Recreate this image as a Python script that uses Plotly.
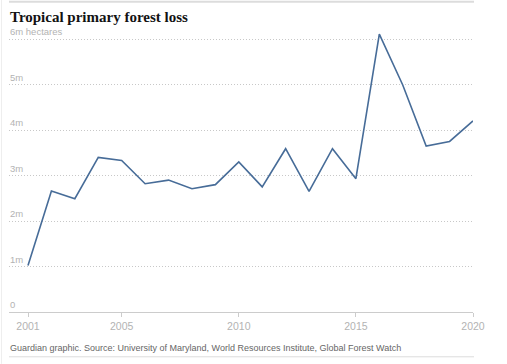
import plotly.graph_objects as go

years = list(range(2001, 2021))
loss_mha = [1.02, 2.66, 2.49, 3.40, 3.33, 2.82, 2.90, 2.71, 2.80, 3.30,
            2.75, 3.59, 2.65, 3.59, 2.93, 6.11, 4.99, 3.65, 3.75, 4.20]
y_ticks = [0, 1, 2, 3, 4, 5, 6]
y_tick_labels = ["0", "1m", "2m", "3m", "4m", "5m", "6m hectares"]
x_ticks = [2001, 2005, 2010, 2015, 2020]
title_text = "Tropical primary forest loss"
source_text = "Guardian graphic. Source: University of Maryland, World Resources Institute, Global Forest Watch"

W, H = 507, 364
L, R, T, B = 9, 473, 30.2, 312.2


def px(x):
    return (x - L) / (R - L)


def py(y):
    return (B - y) / (B - T)


sans = "Liberation Sans"
label_color = "#b3b3b3"

fig = go.Figure()
fig.add_trace(go.Scatter(
    x=years, y=loss_mha, mode="lines",
    line=dict(color="#476c98", width=1.6),
    hoverinfo="skip",
))

annotations = []
for v, t in zip(y_ticks, y_tick_labels):
    annotations.append(dict(
        x=0, xref="paper", y=v, yref="y", text=t, showarrow=False,
        xanchor="left", yanchor="bottom", yshift=0, xshift=-1,
        font=dict(family=sans, size=9.5, color=label_color),
    ))
annotations.append(dict(
    x=px(8), xref="paper", y=py(17), yref="paper", text="<b>" + title_text + "</b>",
    showarrow=False, xanchor="left", yanchor="middle",
    font=dict(family="Liberation Serif", size=15, color="#121212"),
))
annotations.append(dict(
    x=px(8), xref="paper", y=py(348), yref="paper", text=source_text,
    showarrow=False, xanchor="left", yanchor="middle",
    font=dict(family=sans, size=9, color="#666666"),
))

shapes = [
    dict(type="line", xref="paper", yref="paper", x0=px(9), x1=px(474), y0=py(2), y1=py(2),
         line=dict(color="#dcdcdc", width=2)),
    dict(type="line", xref="paper", yref="paper", x0=px(9), x1=px(474), y0=py(357), y1=py(357),
         line=dict(color="#dcdcdc", width=1)),
    dict(type="line", xref="paper", yref="paper", x0=px(1.5), x1=px(1.5), y0=py(0), y1=py(364),
         line=dict(color="#eeeeee", width=1)),
]

x0 = 2001 - (28 - L) / ((R - 28) / 19)

fig.update_layout(
    width=W, height=H,
    margin=dict(l=L, r=W - R, t=T, b=H - B, pad=0),
    paper_bgcolor="white", plot_bgcolor="white",
    showlegend=False,
    annotations=annotations,
    shapes=shapes,
    xaxis=dict(
        range=[x0, 2020], tickvals=x_ticks, ticktext=[str(v) for v in x_ticks],
        showgrid=False, zeroline=False, showline=True, linecolor="#cccccc", linewidth=1,
        ticks="outside", ticklen=4, tickcolor="#cccccc", tickwidth=1,
        tickfont=dict(family=sans, size=10.5, color=label_color),
        fixedrange=True,
    ),
    yaxis=dict(
        range=[0, 6.2], tickvals=[1, 2, 3, 4, 5, 6], showticklabels=False,
        showgrid=True, gridcolor="#c8c8c8", gridwidth=1, griddash="1px,2px",
        zeroline=False, showline=False, ticks="", fixedrange=True,
    ),
)

fig.write_html("out.html", config={"displayModeBar": False},
               post_script="document.body.style.margin='0';")
